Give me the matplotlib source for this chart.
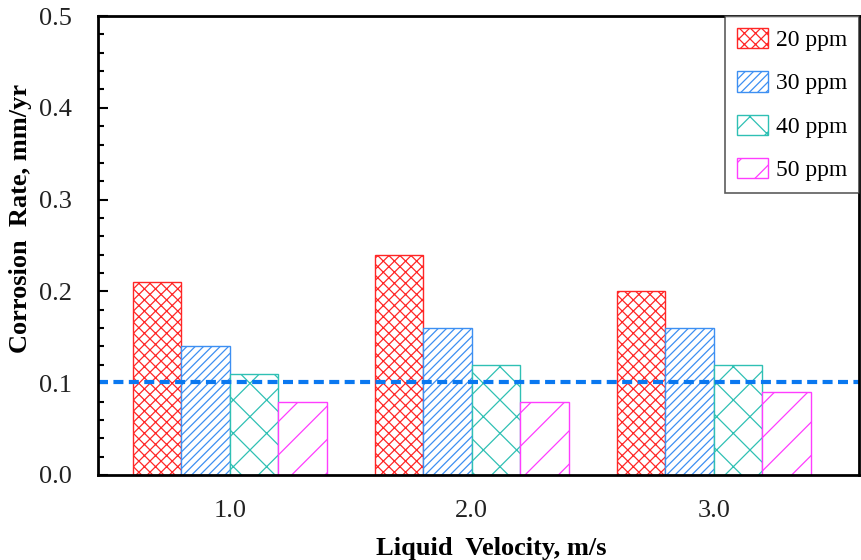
import numpy as np
import matplotlib
matplotlib.use("Agg")
import matplotlib.pyplot as plt
from matplotlib.ticker import MultipleLocator

velocities = ["1.0", "2.0", "3.0"]
labels = ["20 ppm", "30 ppm", "40 ppm", "50 ppm"]
rates = {
    "20 ppm": [0.21, 0.24, 0.20],
    "30 ppm": [0.14, 0.16, 0.16],
    "40 ppm": [0.11, 0.12, 0.12],
    "50 ppm": [0.08, 0.08, 0.09],
}
threshold = 0.101

colors = ["#ff2626", "#3d8ff2", "#2fc0b4", "#ff3dff"]
hatches = ["xxx", "////", "x", "/"]

plt.rcParams["font.family"] = ["Liberation Serif", "DejaVu Serif"]
plt.rcParams["hatch.linewidth"] = 0.9

fig = plt.figure(figsize=(8.61, 5.60), dpi=100)
ax = fig.add_axes([0.1138, 0.1518, 0.8839, 0.8196])

x = np.arange(len(velocities))
width = 0.2
for i, lab in enumerate(labels):
    ax.bar(x + (i - 1.5) * width, rates[lab], width, label=lab,
           facecolor="white", edgecolor=colors[i], hatch=hatches[i],
           linewidth=1.0)

ax.axhline(threshold, color="#0a78f0", linestyle=(0, (2.4, 1.3)), linewidth=3)

ax.set_xlim(-0.545, 2.6)
ax.set_ylim(0, 0.5)
ax.set_xticks(x)
ax.set_xticklabels(velocities)
ax.yaxis.set_major_locator(MultipleLocator(0.1))
ax.yaxis.set_minor_locator(MultipleLocator(0.02))
ax.yaxis.set_major_formatter(matplotlib.ticker.FormatStrFormatter("%.1f"))

ax.tick_params(axis="y", which="major", direction="in", length=7, width=1.5,
               pad=19, labelsize=19, colors="black", labelcolor="#222222")
ax.tick_params(axis="y", which="minor", direction="in", length=4, width=1.5)
ax.tick_params(axis="x", length=0, pad=18, labelsize=19, labelcolor="#222222")

for s in ax.spines.values():
    s.set_linewidth(2)

ax.set_xlabel("Liquid  Velocity, m/s", fontsize=19, fontweight="bold")
ax.xaxis.set_label_coords(0.517, -0.135)
ax.set_ylabel("Corrosion  Rate, mm/yr", fontsize=19, fontweight="bold")
ax.yaxis.set_label_coords(-0.087, 0.56)

leg = ax.legend(loc="upper right", bbox_to_anchor=(1, 1), borderaxespad=0,
                fontsize=17, fancybox=False, edgecolor="#333333",
                handlelength=1.3, handleheight=0.95, labelspacing=0.85,
                handletextpad=0.35, borderpad=0.5)
leg.get_frame().set_linewidth(1.2)

fig.savefig("out.png", dpi=100)
